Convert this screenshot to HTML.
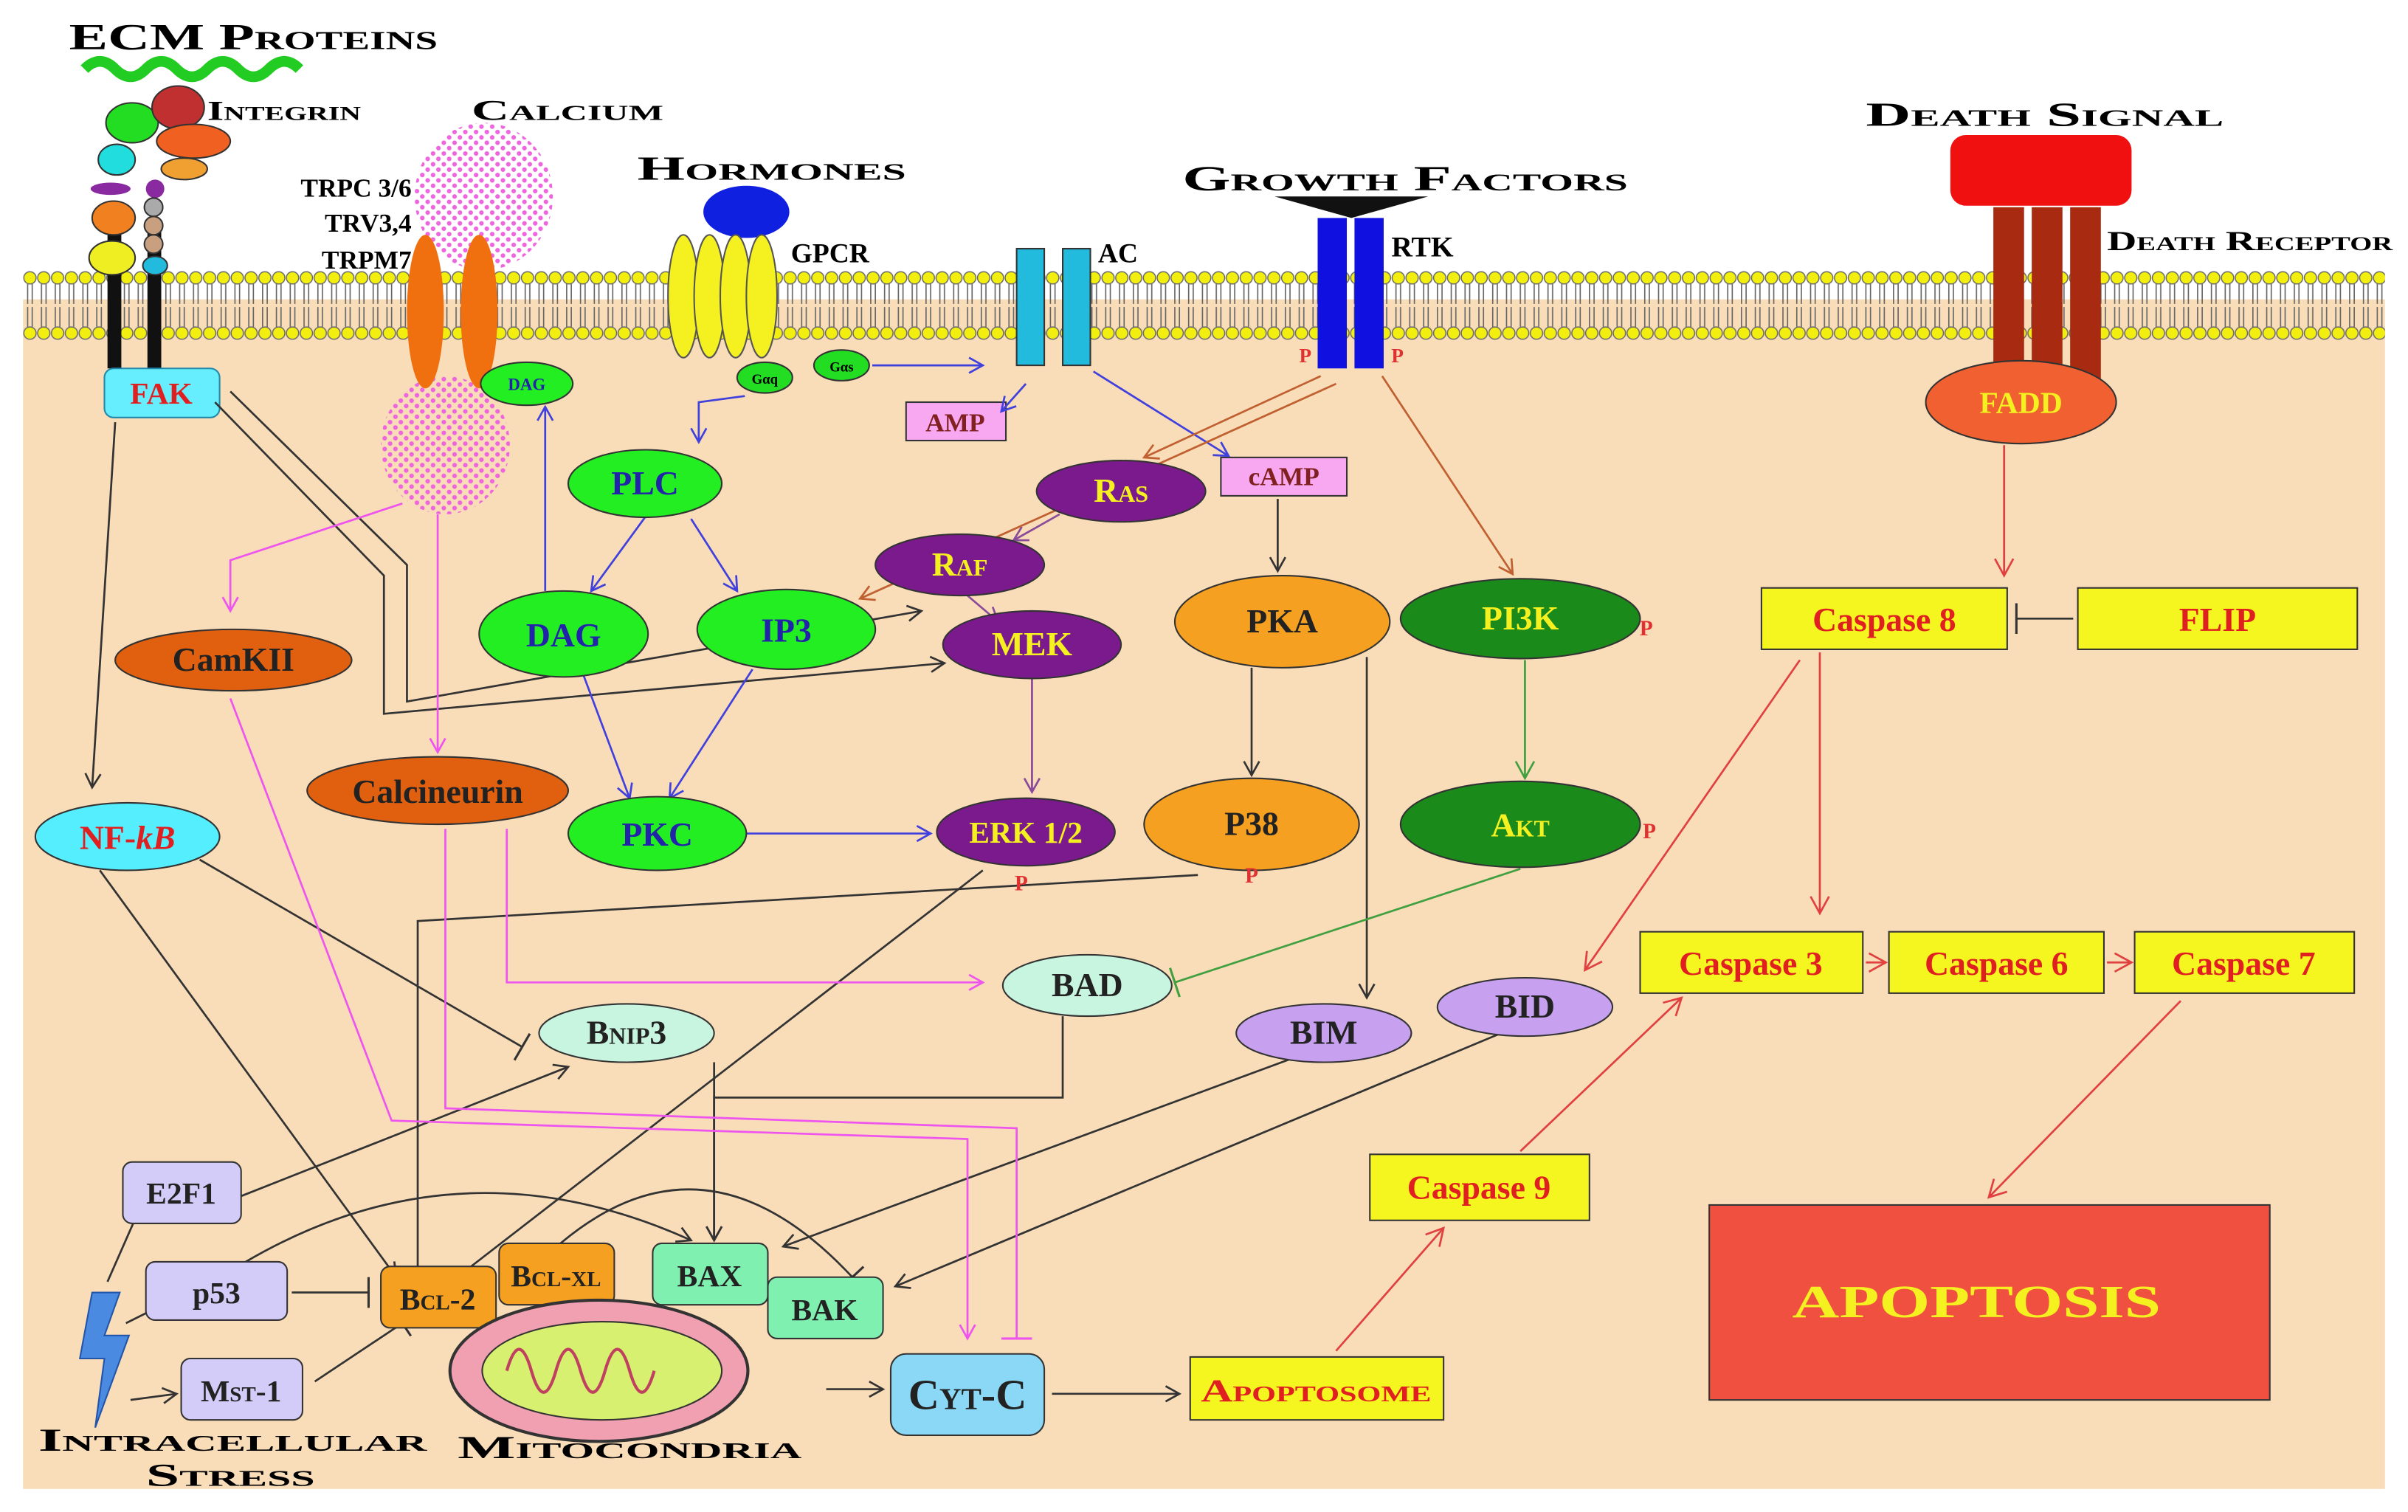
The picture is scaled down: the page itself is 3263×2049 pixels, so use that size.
<!DOCTYPE html>
<html><head><meta charset="utf-8"><style>
html,body{margin:0;padding:0;background:#fff;}
svg{display:block;}
text{font-family:"Liberation Serif",serif;font-weight:bold;}
.sc{font-variant:small-caps;}
</style></head><body>
<svg width="3263" height="2049" viewBox="0 0 1568 985" preserveAspectRatio="none" xmlns="http://www.w3.org/2000/svg">
<defs>
<pattern id="mem" width="9" height="46" patternUnits="userSpaceOnUse" x="15" y="176">
<line x1="3" y1="9" x2="3" y2="22" stroke="#666" stroke-width="0.8"/><line x1="6" y1="9" x2="6" y2="22" stroke="#666" stroke-width="0.8"/>
<line x1="3" y1="24" x2="3" y2="37" stroke="#666" stroke-width="0.8"/><line x1="6" y1="24" x2="6" y2="37" stroke="#666" stroke-width="0.8"/>
<circle cx="4.5" cy="5" r="4" fill="#f2ee10" stroke="#666" stroke-width="0.7"/>
<circle cx="4.5" cy="41" r="4" fill="#f2ee10" stroke="#666" stroke-width="0.7"/>
</pattern>
<pattern id="dots" width="7" height="7" patternUnits="userSpaceOnUse">
<circle cx="2" cy="2" r="1.5" fill="#ee66dd"/><circle cx="5.5" cy="5.5" r="1.5" fill="#ee66dd"/>
</pattern>
<marker id="ak" markerWidth="12" markerHeight="12" refX="10" refY="6" orient="auto" markerUnits="userSpaceOnUse"><path d="M1,1 L10,6 L1,11" fill="none" stroke="#333" stroke-width="1.3"/></marker>
<marker id="ab" markerWidth="12" markerHeight="12" refX="10" refY="6" orient="auto" markerUnits="userSpaceOnUse"><path d="M1,1 L10,6 L1,11" fill="none" stroke="#4040dd" stroke-width="1.3"/></marker>
<marker id="ap" markerWidth="12" markerHeight="12" refX="10" refY="6" orient="auto" markerUnits="userSpaceOnUse"><path d="M1,1 L10,6 L1,11" fill="none" stroke="#ee55ee" stroke-width="1.3"/></marker>
<marker id="ar" markerWidth="14" markerHeight="14" refX="12" refY="7" orient="auto" markerUnits="userSpaceOnUse"><path d="M1,1 L12,7 L1,13" fill="none" stroke="#e04040" stroke-width="1.3"/></marker>
<marker id="ao" markerWidth="12" markerHeight="12" refX="10" refY="6" orient="auto" markerUnits="userSpaceOnUse"><path d="M1,1 L10,6 L1,11" fill="none" stroke="#c06030" stroke-width="1.3"/></marker>
<marker id="av" markerWidth="12" markerHeight="12" refX="10" refY="6" orient="auto" markerUnits="userSpaceOnUse"><path d="M1,1 L10,6 L1,11" fill="none" stroke="#8a4a9a" stroke-width="1.3"/></marker>
<marker id="ag" markerWidth="14" markerHeight="14" refX="12" refY="7" orient="auto" markerUnits="userSpaceOnUse"><path d="M1,1 L12,7 L1,13" fill="none" stroke="#40a040" stroke-width="1.3"/></marker>
<marker id="tk" markerWidth="4" markerHeight="20" refX="2" refY="10" orient="auto" markerUnits="userSpaceOnUse"><line x1="2" y1="0" x2="2" y2="20" stroke="#333" stroke-width="1.5"/></marker>
<marker id="tp" markerWidth="4" markerHeight="20" refX="2" refY="10" orient="auto" markerUnits="userSpaceOnUse"><line x1="2" y1="0" x2="2" y2="20" stroke="#ee55ee" stroke-width="1.5"/></marker>
<marker id="tg" markerWidth="4" markerHeight="20" refX="2" refY="10" orient="auto" markerUnits="userSpaceOnUse"><line x1="2" y1="0" x2="2" y2="20" stroke="#40a040" stroke-width="1.5"/></marker>
</defs>
<rect x="15" y="195" width="1538" height="775" fill="#f9dcb8"/>
<rect x="15" y="176" width="1538" height="46" fill="url(#mem)"/>

<!-- ECM / integrin -->
<text x="45" y="32" font-size="24" class="sc" textLength="240" lengthAdjust="spacingAndGlyphs">ECM Proteins</text>
<path d="M55,45 q10,-10 20,0 t20,0 t20,0 t20,0 t20,0 t20,0 t20,0" fill="none" stroke="#22cc22" stroke-width="7"/>
<rect x="70" y="150" width="9" height="90" fill="#111"/><rect x="96" y="150" width="9" height="90" fill="#111"/>
<ellipse cx="86" cy="80" rx="17" ry="13" fill="#22dd22" stroke="#333"/>
<ellipse cx="116" cy="70" rx="17" ry="14" fill="#c03030" stroke="#333"/>
<ellipse cx="126" cy="92" rx="24" ry="11" fill="#f06020" stroke="#333"/>
<ellipse cx="120" cy="110" rx="15" ry="7" fill="#f0a030" stroke="#333"/>
<ellipse cx="76" cy="104" rx="12" ry="10" fill="#22dddd" stroke="#333"/>
<ellipse cx="72" cy="123" rx="13" ry="4" fill="#8a2aa0"/>
<ellipse cx="74" cy="142" rx="14" ry="11" fill="#f08020" stroke="#333"/>
<ellipse cx="73" cy="168" rx="15" ry="11" fill="#eeee22" stroke="#333"/>
<circle cx="101" cy="123" r="6" fill="#8a2aa0"/><circle cx="100" cy="135" r="6" fill="#aaa" stroke="#333"/>
<circle cx="100" cy="147" r="6" fill="#c8a080" stroke="#333"/><circle cx="100" cy="159" r="6" fill="#c8a080" stroke="#333"/>
<ellipse cx="101" cy="173" rx="8" ry="6" fill="#22bbdd" stroke="#333"/>
<text x="135" y="78" font-size="18" class="sc" textLength="100" lengthAdjust="spacingAndGlyphs">Integrin</text>
<rect x="68" y="240" width="75" height="32" rx="6" fill="#66eeff" stroke="#2288aa"/>
<text x="105" y="263" font-size="20" fill="#e02020" text-anchor="middle">FAK</text>

<!-- Calcium -->
<text x="307" y="78" font-size="19" class="sc" textLength="125" lengthAdjust="spacingAndGlyphs">Calcium</text>
<ellipse cx="315" cy="128" rx="45" ry="48" fill="url(#dots)"/>
<ellipse cx="290" cy="290" rx="42" ry="45" fill="url(#dots)"/>
<ellipse cx="277" cy="203" rx="12" ry="50" fill="#f07010"/>
<ellipse cx="312" cy="203" rx="12" ry="50" fill="#f07010"/>
<text x="268" y="128" font-size="17" text-anchor="end">TRPC 3/6</text>
<text x="268" y="151" font-size="17" text-anchor="end">TRV3,4</text>
<text x="268" y="175" font-size="17" text-anchor="end">TRPM7</text>

<!-- Hormones / GPCR -->
<text x="415" y="117" font-size="22" class="sc" textLength="175" lengthAdjust="spacingAndGlyphs">Hormones</text>
<ellipse cx="486" cy="138" rx="28" ry="17" fill="#1020e0"/>
<g fill="#f5f020" stroke="#555">
<ellipse cx="445" cy="193" rx="10" ry="40"/><ellipse cx="462" cy="193" rx="10" ry="40"/><ellipse cx="479" cy="193" rx="10" ry="40"/><ellipse cx="496" cy="193" rx="10" ry="40"/></g>
<text x="515" y="171" font-size="18">GPCR</text>
<ellipse cx="498" cy="246" rx="18" ry="10" fill="#22dd22" stroke="#333"/><text x="498" y="250" font-size="9" text-anchor="middle">Gαq</text>
<ellipse cx="548" cy="238" rx="18" ry="10" fill="#22dd22" stroke="#333"/><text x="548" y="242" font-size="9" text-anchor="middle">Gαs</text>
<ellipse cx="343" cy="250" rx="30" ry="14" fill="#22ee22" stroke="#333"/><text x="343" y="254" font-size="11" fill="#2222aa" text-anchor="middle">DAG</text>

<!-- AC -->
<rect x="662" y="162" width="18" height="76" fill="#22bbdd" stroke="#333"/>
<rect x="692" y="162" width="18" height="76" fill="#22bbdd" stroke="#333"/>
<text x="715" y="171" font-size="18">AC</text>
<rect x="590" y="262" width="65" height="25" fill="#f8a8f0" stroke="#333"/><text x="622" y="281" font-size="17" fill="#802020" text-anchor="middle">AMP</text>
<rect x="795" y="298" width="82" height="25" fill="#f8a8f0" stroke="#333"/><text x="836" y="316" font-size="17" fill="#802020" text-anchor="middle">cAMP</text>

<!-- Growth factors / RTK -->
<text x="770" y="124" font-size="23" class="sc" textLength="290" lengthAdjust="spacingAndGlyphs">Growth Factors</text>
<path d="M830,128 L930,128 L880,142 Z" fill="#111"/>
<rect x="858" y="142" width="19" height="98" fill="#1010e0"/><rect x="882" y="142" width="19" height="98" fill="#1010e0"/>
<text x="906" y="167" font-size="19">RTK</text>
<text x="846" y="236" font-size="13" fill="#e03030">P</text><text x="906" y="236" font-size="13" fill="#e03030">P</text>

<!-- Death -->
<text x="1215" y="82" font-size="22" class="sc" textLength="233" lengthAdjust="spacingAndGlyphs">Death Signal</text>
<rect x="1270" y="88" width="118" height="46" rx="10" fill="#f01010"/>
<rect x="1298" y="135" width="20" height="115" fill="#a82a10"/><rect x="1323" y="135" width="20" height="115" fill="#a82a10"/><rect x="1348" y="135" width="20" height="115" fill="#a82a10"/>
<text x="1372" y="163" font-size="18" class="sc" textLength="186" lengthAdjust="spacingAndGlyphs">Death Receptor</text>
<ellipse cx="1316" cy="262" rx="62" ry="27" fill="#f06030" stroke="#333"/><text x="1316" y="269" font-size="20" fill="#f5f020" text-anchor="middle">FADD</text>

<!-- connectors -->
<g fill="none" stroke-width="1.3">
<g stroke="#333">
<path d="M75,275 L60,513" marker-end="url(#ak)"/>
<path d="M140,262 L250,375 L250,465 L615,432" marker-end="url(#ak)"/>
<path d="M150,255 L265,368 L265,457 L600,398" marker-end="url(#ak)"/>
<path d="M832,325 L832,372" marker-end="url(#ak)"/>
<path d="M815,435 L815,505" marker-end="url(#ak)"/>
<path d="M890,428 L890,650" marker-end="url(#ak)"/>
<path d="M130,560 L340,682" marker-end="url(#tk)"/>
<path d="M65,567 L258,832" marker-end="url(#ak)"/>
<path d="M780,570 L272,600 L272,832" marker-end="url(#tk)"/>
<path d="M640,567 L290,838" marker-end="url(#ak)"/>
<path d="M692,662 L692,715 L465,715 L465,808" marker-end="url(#ak)"/>
<path d="M465,692 L465,808" marker-end="url(#ak)"/>
<path d="M155,780 L370,695" marker-end="url(#ak)"/>
<path d="M190,842 L240,842" marker-end="url(#tk)"/>
<path d="M160,822 Q300,740 450,808" marker-end="url(#ak)"/>
<path d="M365,810 Q460,730 555,832" marker-end="url(#tk)"/>
<path d="M840,690 L510,812" marker-end="url(#ak)"/>
<path d="M980,672 L583,838" marker-end="url(#ak)"/>
<path d="M205,900 L262,862" marker-end="url(#tk)"/>
<path d="M70,835 L92,785" marker-end="url(#ak)"/>
<path d="M82,862 L110,848" marker-end="url(#ak)"/>
<path d="M85,912 L115,908" marker-end="url(#ak)"/>
<path d="M538,905 L575,905" marker-end="url(#ak)"/>
<path d="M685,908 L768,908" marker-end="url(#ak)"/>
<path d="M1350,403 L1313,403" marker-end="url(#tk)"/>
</g>
<g stroke="#4040dd">
<path d="M485,258 L455,262 L455,288" marker-end="url(#ab)"/>
<path d="M568,238 L640,238" marker-end="url(#ab)"/>
<path d="M668,250 L652,268" marker-end="url(#ab)"/>
<path d="M712,242 L800,297" marker-end="url(#ab)"/>
<path d="M420,337 L385,385" marker-end="url(#ab)"/>
<path d="M450,338 L480,385" marker-end="url(#ab)"/>
<path d="M355,385 L355,265" marker-end="url(#ab)"/>
<path d="M380,440 L410,520" marker-end="url(#ab)"/>
<path d="M490,436 L436,520" marker-end="url(#ab)"/>
<path d="M486,543 L606,543" marker-end="url(#ab)"/>
</g>
<g stroke="#8a4a9a">
<path d="M690,335 L660,352" marker-end="url(#av)"/>
<path d="M630,388 L650,405" marker-end="url(#av)"/>
<path d="M672,442 L672,516" marker-end="url(#av)"/>
</g>
<g stroke="#c06030">
<path d="M860,245 L745,298" marker-end="url(#ao)"/>
<path d="M870,250 L560,390" marker-end="url(#ao)"/>
<path d="M900,245 L985,374" marker-end="url(#ao)"/>
</g>
<g stroke="#40a040">
<path d="M993,430 L993,507" marker-end="url(#ag)"/>
<path d="M990,566 L765,640" marker-end="url(#tg)"/>
</g>
<g stroke="#ee55ee">
<path d="M262,328 L150,365 L150,398" marker-end="url(#ap)"/>
<path d="M285,335 L285,490" marker-end="url(#ap)"/>
<path d="M150,455 L255,730 L630,742 L630,872" marker-end="url(#ap)"/>
<path d="M290,540 L290,722 L662,735 L662,872" marker-end="url(#tp)"/>
<path d="M330,540 L330,640 L640,640" marker-end="url(#ap)"/>
</g>
<g stroke="#e04040">
<path d="M1305,290 L1305,375" marker-end="url(#ar)"/>
<path d="M1185,425 L1185,595" marker-end="url(#ar)"/>
<path d="M1172,430 L1032,632" marker-end="url(#ar)"/>
<path d="M1215,627 L1228,627" marker-end="url(#ar)"/>
<path d="M1372,627 L1388,627" marker-end="url(#ar)"/>
<path d="M1420,652 L1295,780" marker-end="url(#ar)"/>
<path d="M870,880 L940,800" marker-end="url(#ar)"/>
<path d="M990,750 L1095,650" marker-end="url(#ar)"/>
</g>
</g>

<!-- nodes -->
<g stroke="#333" stroke-width="1">
<ellipse cx="420" cy="315" rx="50" ry="22" fill="#22ee22"/>
<ellipse cx="730" cy="320" rx="55" ry="20" fill="#7a1a8c"/>
<ellipse cx="625" cy="368" rx="55" ry="20" fill="#7a1a8c"/>
<ellipse cx="672" cy="420" rx="58" ry="22" fill="#7a1a8c"/>
<ellipse cx="367" cy="413" rx="55" ry="28" fill="#22ee22"/>
<ellipse cx="512" cy="410" rx="58" ry="26" fill="#22ee22"/>
<ellipse cx="835" cy="405" rx="70" ry="30" fill="#f5a020"/>
<ellipse cx="990" cy="403" rx="78" ry="26" fill="#1a8a1a"/>
<ellipse cx="152" cy="430" rx="77" ry="20" fill="#e06010"/>
<ellipse cx="285" cy="515" rx="85" ry="22" fill="#e06010"/>
<ellipse cx="83" cy="545" rx="60" ry="22" fill="#55eeff"/>
<ellipse cx="428" cy="543" rx="58" ry="24" fill="#22ee22"/>
<ellipse cx="668" cy="542" rx="58" ry="22" fill="#7a1a8c"/>
<ellipse cx="815" cy="537" rx="70" ry="30" fill="#f5a020"/>
<ellipse cx="990" cy="537" rx="78" ry="28" fill="#1a8a1a"/>
<ellipse cx="708" cy="642" rx="55" ry="20" fill="#c8f5e0"/>
<ellipse cx="862" cy="673" rx="57" ry="19" fill="#c8a0f0"/>
<ellipse cx="993" cy="656" rx="57" ry="19" fill="#c8a0f0"/>
<ellipse cx="408" cy="673" rx="57" ry="19" fill="#c8f5e0"/>
<rect x="1147" y="383" width="160" height="40" fill="#f5f520"/>
<rect x="1353" y="383" width="182" height="40" fill="#f5f520"/>
<rect x="1068" y="607" width="145" height="40" fill="#f5f520"/>
<rect x="1230" y="607" width="140" height="40" fill="#f5f520"/>
<rect x="1390" y="607" width="143" height="40" fill="#f5f520"/>
<rect x="892" y="752" width="143" height="43" fill="#f5f520"/>
<rect x="80" y="757" width="77" height="40" rx="6" fill="#d4ccf8"/>
<rect x="95" y="822" width="92" height="38" rx="6" fill="#d4ccf8"/>
<rect x="118" y="885" width="79" height="40" rx="6" fill="#d4ccf8"/>
<rect x="325" y="810" width="75" height="40" rx="6" fill="#f5a020"/>
<rect x="248" y="825" width="75" height="40" rx="6" fill="#f5a020"/>
<rect x="425" y="810" width="75" height="40" rx="6" fill="#80f0b0"/>
<rect x="500" y="832" width="75" height="40" rx="6" fill="#80f0b0"/>
<ellipse cx="390" cy="893" rx="97" ry="46" fill="#f0a0b0" stroke-width="2"/>
<ellipse cx="392" cy="893" rx="78" ry="32" fill="#d8f070"/>
<rect x="580" y="882" width="100" height="53" rx="10" fill="#8ad8f5"/>
<rect x="775" y="884" width="165" height="41" fill="#f5f520"/>
<rect x="1113" y="785" width="365" height="127" fill="#f05040"/>
</g>
<path d="M330,893 q8,-28 16,0 q8,28 16,0 q8,-28 16,0 q8,28 16,0 q8,-28 16,0 q8,28 16,0" fill="none" stroke="#c04060" stroke-width="2"/>
<path d="M60,842 L78,842 L68,870 L84,870 L62,930 L68,885 L52,885 Z" fill="#4a8ae0" stroke="#2255aa"/>

<!-- node labels -->
<g font-size="22" text-anchor="middle">
<text x="420" y="322" fill="#2222aa">PLC</text>
<text x="730" y="327" fill="#f5f020" class="sc">Ras</text>
<text x="625" y="375" fill="#f5f020" class="sc">Raf</text>
<text x="672" y="427" fill="#f5f020">MEK</text>
<text x="367" y="421" fill="#2222aa">DAG</text>
<text x="512" y="418" fill="#2222aa">IP3</text>
<text x="835" y="412" fill="#222">PKA</text>
<text x="990" y="410" fill="#f5f020">PI3K</text>
<text x="152" y="437" fill="#222">CamKII</text>
<text x="285" y="523" fill="#222">Calcineurin</text>
<text x="83" y="553" fill="#e02020">NF-<tspan font-style="italic">kB</tspan></text>
<text x="428" y="551" fill="#2222aa">PKC</text>
<text x="668" y="549" fill="#f5f020" font-size="20">ERK 1/2</text>
<text x="815" y="544" fill="#222">P38</text>
<text x="990" y="545" fill="#f5f020" class="sc">Akt</text>
<text x="708" y="649" fill="#222">BAD</text>
<text x="862" y="680" fill="#222">BIM</text>
<text x="993" y="663" fill="#222">BID</text>
<text x="408" y="680" fill="#222" class="sc">Bnip3</text>
<text x="1227" y="411" fill="#e02020">Caspase 8</text>
<text x="1444" y="411" fill="#e02020">FLIP</text>
<text x="1140" y="635" fill="#e02020">Caspase 3</text>
<text x="1300" y="635" fill="#e02020">Caspase 6</text>
<text x="1461" y="635" fill="#e02020">Caspase 7</text>
<text x="963" y="781" fill="#e02020">Caspase 9</text>
<text x="118" y="784" fill="#222" font-size="20">E2F1</text>
<text x="141" y="849" fill="#222" font-size="20">p53</text>
<text x="157" y="913" fill="#222" font-size="20" class="sc">Mst-1</text>
<text x="285" y="853" fill="#222" font-size="20" class="sc">Bcl-2</text>
<text x="362" y="838" fill="#222" font-size="20" class="sc">Bcl-xl</text>
<text x="462" y="838" fill="#222" font-size="20">BAX</text>
<text x="537" y="860" fill="#222" font-size="20">BAK</text>
<text x="630" y="918" fill="#222" font-size="28" class="sc">Cyt-C</text>
<text x="857" y="913" fill="#e02020" font-size="21" class="sc" textLength="150" lengthAdjust="spacingAndGlyphs">Apoptosome</text>
<text x="1287" y="858" fill="#f5f020" font-size="30" textLength="240" lengthAdjust="spacingAndGlyphs">APOPTOSIS</text>
</g>
<g font-size="14" fill="#e03030" text-anchor="middle">
<text x="665" y="580">P</text><text x="815" y="575">P</text><text x="1072" y="414">P</text><text x="1074" y="546">P</text>
</g>
<text x="25" y="945" font-size="21" class="sc" textLength="253" lengthAdjust="spacingAndGlyphs">Intracellular</text>
<text x="95" y="968" font-size="21" class="sc" textLength="110" lengthAdjust="spacingAndGlyphs">Stress</text>
<text x="298" y="950" font-size="21" class="sc" textLength="224" lengthAdjust="spacingAndGlyphs">Mitocondria</text>
</svg>
</body></html>
